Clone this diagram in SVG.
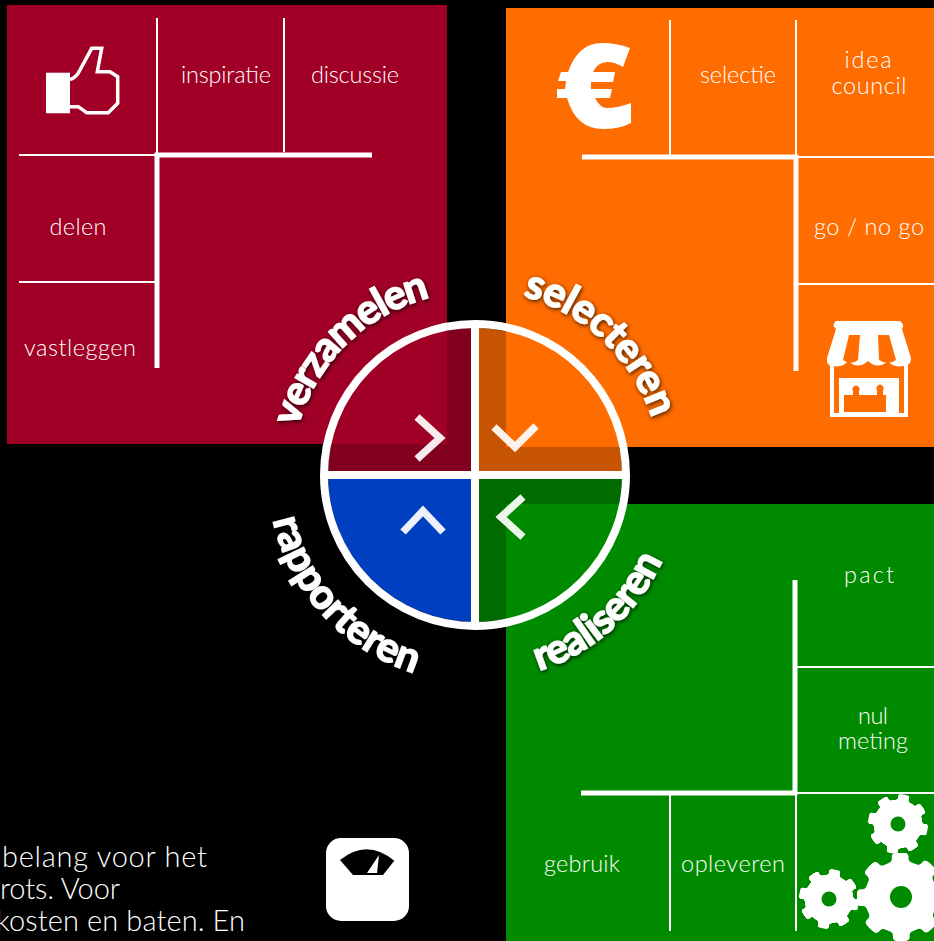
<svg xmlns="http://www.w3.org/2000/svg" width="934" height="941" viewBox="0 0 934 941">
<style>
text{font-family:"Lato","Open Sans","Liberation Sans",sans-serif;font-weight:300;font-size:23.500px;fill:#fff;text-anchor:middle}
.body{font-size:29px;text-anchor:start}
.curve{font-weight:700;font-size:41px;stroke:#fff;stroke-width:1.500px;filter:url(#sh);text-anchor:start}
.thin{stroke:#fff;stroke-width:2;fill:none}
.thick{stroke:#fff;stroke-width:5;fill:none}
.chev{stroke:#fff;stroke-width:7.500;fill:none;stroke-opacity:.92}
.ic{fill:#fff}
</style>
<defs>
<filter id="sh" x="-20%" y="-20%" width="140%" height="140%"><feDropShadow dx="1" dy="1.500" stdDeviation="2" flood-color="#000" flood-opacity=".75"/></filter>
<filter id="soft" x="-10%" y="-10%" width="120%" height="120%"><feGaussianBlur stdDeviation="1.300"/><feComponentTransfer><feFuncA type="linear" slope="7" intercept="-3"/></feComponentTransfer></filter>
<path id="p1" d="M298 427A183 183 0 0 1 475 292"/>
<path id="p2" d="M523 296A186 186 0 0 1 661 475"/>
<path id="p3" d="M273 520A207 207 0 0 0 475 682"/>
<path id="p4" d="M539 671A206 206 0 0 0 681 475"/>
<g id="gear" filter="url(#soft)"><circle r="24.500" fill="#fff"/><circle r="24" fill="none" stroke="#fff" stroke-width="12" pathLength="80" stroke-dasharray="5.400 4.600" stroke-dashoffset="2.700"/></g>
</defs>
<rect width="934" height="941" fill="#000"/>
<g id="panel-verzamelen">
<rect x="7" y="5" width="440" height="439" fill="#a00025"/>
<path class="thin" d="M157 18V155M284 18V152M19 155H155M19 282H155"/>
<path class="thick" d="M372 155H157V368"/>
<text x="226" y="82.500" textLength="90">inspiratie</text><text x="355" y="82.500" textLength="88">discussie</text><text x="78" y="234.500" textLength="57">delen</text><text x="80" y="355.500" textLength="112">vastleggen</text>
<rect class="ic" x="46" y="72.700" width="24" height="40.600"/>
<path d="M70 79.500Q76 78 80 70L91.700 48.300H101.700L97.300 71.700H110L117.700 76.700V103.300L108.300 112.700H86.700L78.300 106.700H70" fill="none" stroke="#fff" stroke-width="3.500"/>
</g>
<g id="panel-selecteren">
<rect x="506" y="8" width="428" height="439" fill="#ff6c00"/>
<path class="thin" d="M670 20V155M796 20V155M798 157H934M798 284H934"/>
<path class="thick" d="M582 157H796V371"/>
<text x="738" y="82.500" textLength="76">selectie</text><text x="868" y="67.500" textLength="47">idea</text><text x="869" y="93.500" textLength="75">council</text><text x="869" y="235" textLength="110">go / no go</text>
<path class="ic" d="M836 321H900Q905 325 902 329L911 358Q911 366 903 366Q893 368 888 361Q878 370 868 361Q858 370 848 361Q843 368 833 366Q826 366 827 358L836 329Q831 325 836 321Z"/>
<path fill="#ff6c00" d="M849 335H860L858 360Q851 366 843 360ZM878 335H889L896 360Q888 366 879 360Z"/>
<path class="ic" d="M830 364H834V413H839V378H899V413H904V364H908V417H830Z"/>
<rect class="ic" x="839" y="378" width="60" height="36"/>
<path fill="#ff6c00" d="M844 395H853V391A3.500 3.500 0 1 1 859 391V395H877V390A3.500 3.500 0 1 1 883 390V395H886V412H844Z"/>
<path class="ic" d="M630 48Q616 43 602 43Q578 43 568 72H561L558 81H566L565 89H557V98H567Q576 129 603 129Q620 129 631 123V103Q618 108 607 108Q600 108 595 98H610L612 89H591V82H613L615 72H593Q598 62 607 62Q615 62 623 67Z"/>
</g>
<g id="panel-realiseren">
<rect x="506" y="504" width="428" height="437" fill="#008a00"/>
<path class="thin" d="M797 667H934M797 793H934M670 795V931M796 795V931"/>
<path class="thick" d="M795 580V793H581"/>
<text x="869" y="582.500" textLength="50">pact</text><text x="873" y="723.500" textLength="30">nul</text><text x="873" y="748.500" textLength="70">meting</text><text x="582" y="871.500" textLength="76">gebruik</text><text x="733" y="871.500" textLength="104">opleveren</text>
<use href="#gear" transform="translate(898 824) rotate(12)"/><circle cx="898" cy="824" r="7.500" fill="#008a00"/>
<use href="#gear" transform="translate(829 899) rotate(12)"/><circle cx="829" cy="899" r="7.500" fill="#008a00"/>
<use href="#gear" transform="translate(901 897) scale(1.480)"/><circle cx="901" cy="897" r="11" fill="#008a00"/>
</g>
<g id="panel-rapporteren">
<text class="body" x="2" y="867" textLength="205">belang voor het</text><text class="body" x="0" y="898.500" textLength="120">rots. Voor</text><text class="body" x="-4" y="930.500" textLength="249">kosten en baten. En</text>
<rect class="ic" x="326" y="838" width="83" height="83" rx="15"/>
<path d="M340 860Q367 838 394.300 860.700L383 875H353Z"/>
<path class="ic" d="M379 855L367 873H377Z"/>
</g>
<g id="cycle">
<path d="M471 471V328A147 147 0 0 0 328 471Z" fill="#a00025" fill-opacity=".8"/>
<path d="M479 471V328A147 147 0 0 1 622 471Z" fill="#ff6c00" fill-opacity=".78"/>
<path d="M479 479V622A147 147 0 0 0 622 479Z" fill="#008a00" fill-opacity=".78"/>
<path d="M471 479V622A147 147 0 0 1 328 479Z" fill="#0040c0"/>
<circle cx="475" cy="475" r="151" fill="none" stroke="#fff" stroke-width="8"/>
<path d="M475 324V626M324 475H626" stroke="#fff" stroke-width="8"/>
<path class="chev" d="M417 417L440 438L417 459"/>
<path class="chev" d="M494 427L515 447L536 426"/>
<path class="chev" d="M403 532L423 511L443 532"/>
<path class="chev" d="M523 497L501 517L523 537"/>
</g>
<g id="labels">
<text class="curve" letter-spacing="-1.700"><textPath href="#p1">verzamelen</textPath></text>
<text class="curve" letter-spacing="-.4"><textPath href="#p2">selecteren</textPath></text>
<text class="curve"><textPath href="#p3">rapporteren</textPath></text>
<text class="curve" letter-spacing="-.8"><textPath href="#p4">realiseren</textPath></text>
</g>
</svg>
